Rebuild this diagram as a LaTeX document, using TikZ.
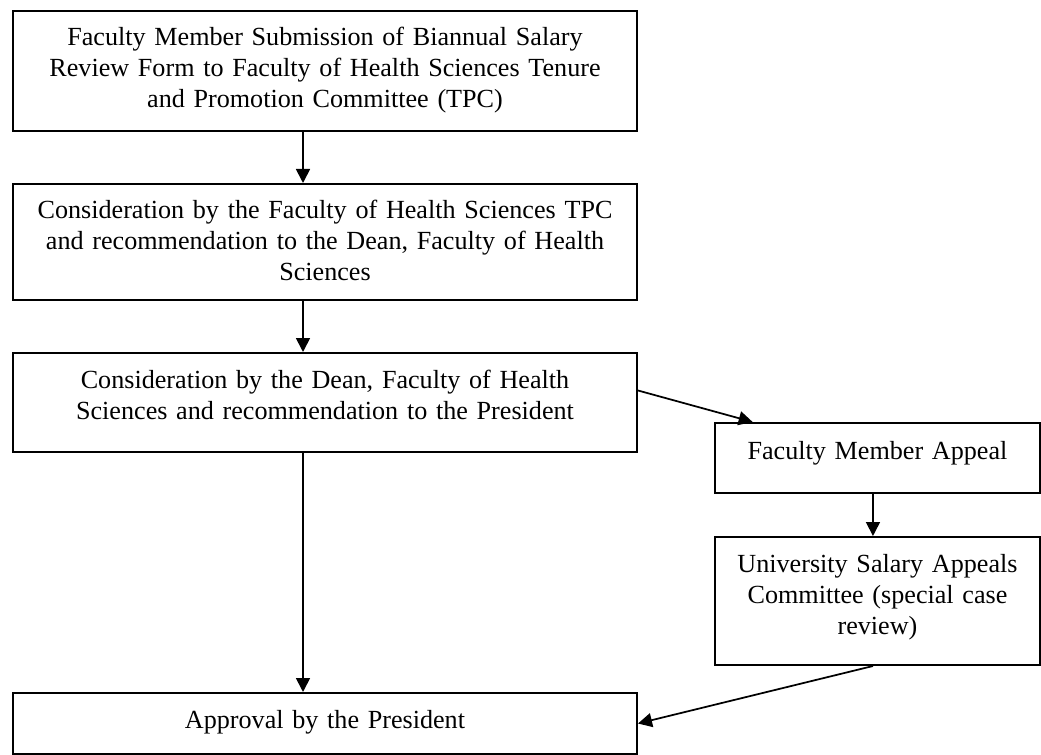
\documentclass[tikz,border=0pt]{standalone}
\usepackage{fontspec}
\setmainfont{Liberation Serif}
\usetikzlibrary{arrows.meta}
\begin{document}
\begin{tikzpicture}[
  x=0.75pt, y=-0.75pt,
  box/.style={draw, line width=1.5pt, anchor=north west, inner sep=0pt, align=center,
    font=\fontsize{19.6pt}{23.25pt}\selectfont},
  wide/.style={box, text width=468pt},
  narrow/.style={box, text width=243.75pt},
  arr/.style={-{Triangle[length=10.5pt,width=10.5pt]}, line width=1.3pt}
]
\useasboundingbox (0,0) rectangle (1041,755);
\node[wide, text height=26.25pt, text depth=63.75pt] (submit) at (12,10)
  {Faculty Member Submission of Biannual Salary\\Review Form to Faculty of Health Sciences Tenure\\and Promotion Committee (TPC)};
\node[wide, text height=26.25pt, text depth=60.75pt] (tpc) at (12,183)
  {Consideration by the Faculty of Health Sciences TPC\\and recommendation to the Dean, Faculty of Health\\Sciences};
\node[wide, text height=26.25pt, text depth=48pt] (dean) at (12,352)
  {Consideration by the Dean, Faculty of Health\\Sciences and recommendation to the President};
\node[narrow, text height=27pt, text depth=25.5pt] (appeal) at (714,422)
  {Faculty Member Appeal};
\node[narrow, text height=26.25pt, text depth=69.75pt] (usac) at (714,536)
  {University Salary Appeals\\Committee (special case\\review)};
\node[wide, text height=26.25pt, text depth=19.5pt] (approve) at (12,692)
  {Approval by the President};
\draw[arr] ([xshift=-16.5pt]submit.south) -- ([xshift=-16.5pt]tpc.north);
\draw[arr] ([xshift=-16.5pt]tpc.south) -- ([xshift=-16.5pt]dean.north);
\draw[arr] ([xshift=-16.5pt]dean.south) -- ([xshift=-16.5pt]approve.north);
\draw[arr] ([yshift=9pt]dean.east) -- ([xshift=29pt]appeal.north west);
\draw[arr] ([xshift=-3.4pt]appeal.south) -- ([xshift=-3.4pt]usac.north);
\draw[arr] ([xshift=-3.4pt]usac.south) -- (approve.east);
\end{tikzpicture}
\end{document}
